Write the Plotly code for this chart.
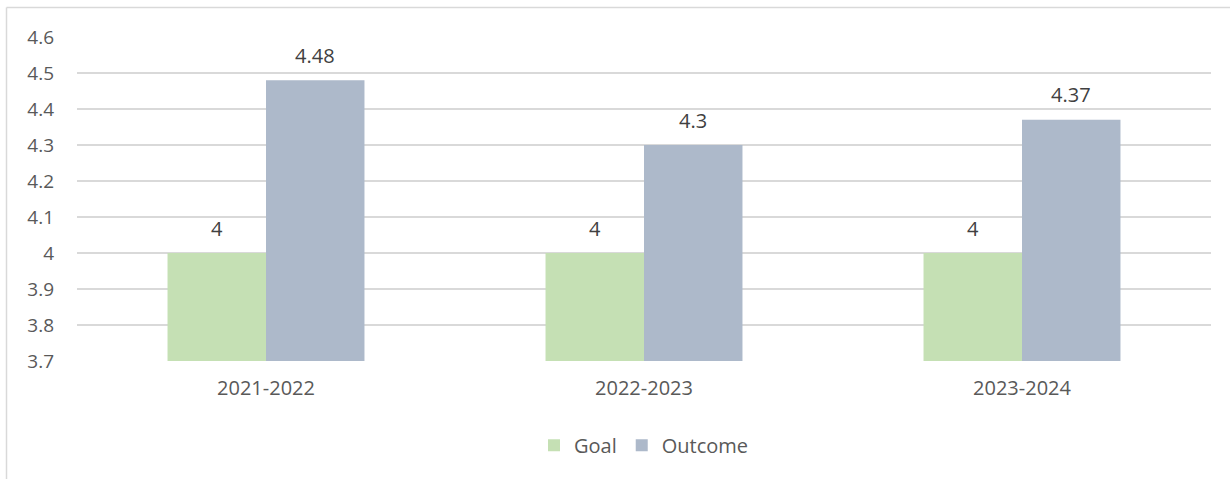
import plotly.graph_objects as go

categories = ["2021-2022", "2022-2023", "2023-2024"]
goal = [4, 4, 4]
outcome = [4.48, 4.3, 4.37]
tick_vals = [3.7, 3.8, 3.9, 4.0, 4.1, 4.2, 4.3, 4.4, 4.5, 4.6]
tick_text = ["3.7", "3.8", "3.9", "4", "4.1", "4.2", "4.3", "4.4", "4.5", "4.6"]

FONT = "Open Sans"
TXT = "#595959"

fig = go.Figure()
fig.add_trace(go.Bar(name="Goal", x=categories, y=goal, marker=dict(color="#C5E0B4", line=dict(width=0))))
fig.add_trace(go.Bar(name="Outcome", x=categories, y=outcome, marker=dict(color="#ADB9CA", line=dict(width=0))))

annotations = []
for c, g, o in zip(categories, goal, outcome):
    annotations.append(dict(x=c, y=g, text=f"{g:g}", showarrow=False, xshift=-49, yshift=25,
                            font=dict(family=FONT, size=20, color="#404040")))
    annotations.append(dict(x=c, y=o, text=f"{o:g}", showarrow=False, xshift=49, yshift=25,
                            font=dict(family=FONT, size=20, color="#404040")))

L, R, T, B = 77, 19, 36.5, 117.5
W, H = 1230, 479
pw, ph = W - L - R, H - T - B

def px_x(p):
    return (p - L) / pw

def px_y(p):
    return (H - B - p) / ph

shapes = [
    dict(type="line", xref="paper", yref="paper", x0=px_x(6.5), x1=px_x(1240), y0=px_y(7), y1=px_y(7),
         line=dict(color="#D9D9D9", width=1.5)),
    dict(type="line", xref="paper", yref="paper", x0=px_x(6.5), x1=px_x(6.5), y0=px_y(7), y1=px_y(490),
         line=dict(color="#D9D9D9", width=1.5)),
]

fig.update_layout(
    width=W, height=H,
    margin=dict(l=L, r=R, t=T, b=B, pad=0),
    paper_bgcolor="white", plot_bgcolor="white",
    barmode="group", bargap=0.479, bargroupgap=0,
    font=dict(family=FONT, size=19, color=TXT),
    annotations=annotations,
    shapes=shapes,
    legend=dict(orientation="h", x=0.5, xanchor="center", y=px_y(446), yanchor="middle",
                font=dict(family=FONT, size=20, color=TXT), itemsizing="constant",
                itemwidth=30, traceorder="normal"),
    xaxis=dict(showgrid=False, showline=False, ticks="", tickfont=dict(size=20, color=TXT),
               ticklabelstandoff=13),
    yaxis=dict(range=[3.7, 4.6], tickvals=tick_vals, ticktext=tick_text, showgrid=True,
               gridcolor="#D9D9D9", gridwidth=1.5, zeroline=False, showline=False, ticks="",
               tickfont=dict(size=19, color=TXT), ticklabelstandoff=22),
)

fig.write_html("out.html")
